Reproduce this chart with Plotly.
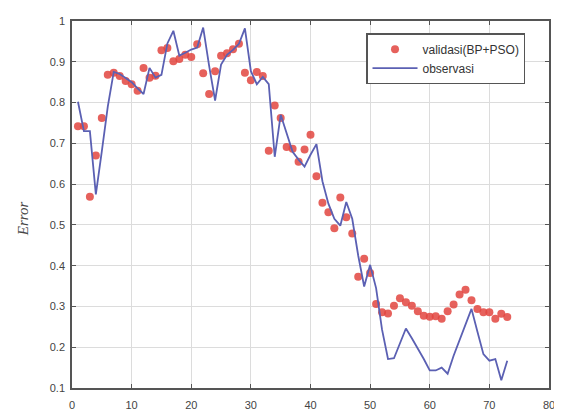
import plotly.graph_objects as go

x_idx = list(range(1, 74))

validasi = [0.742, 0.742, 0.569, 0.670, 0.762, 0.868, 0.873, 0.865, 0.853, 0.845,
            0.829, 0.885, 0.861, 0.866, 0.928, 0.934, 0.901, 0.907, 0.917, 0.912,
            0.943, 0.872, 0.821, 0.877, 0.915, 0.921, 0.931, 0.944, 0.873, 0.855,
            0.875, 0.865, 0.682, 0.793, 0.762, 0.691, 0.687, 0.655, 0.685, 0.721,
            0.619, 0.554, 0.531, 0.492, 0.567, 0.519, 0.479, 0.373, 0.417, 0.382,
            0.306, 0.286, 0.283, 0.302, 0.320, 0.310, 0.302, 0.288, 0.277, 0.275,
            0.276, 0.270, 0.288, 0.305, 0.329, 0.341, 0.315, 0.294, 0.286, 0.286,
            0.270, 0.282, 0.274]

observasi = [0.802, 0.730, 0.730, 0.575, 0.680, 0.790, 0.875, 0.870, 0.860, 0.850,
             0.835, 0.821, 0.885, 0.861, 0.868, 0.945, 0.976, 0.915, 0.922, 0.930,
             0.935, 0.984, 0.890, 0.805, 0.893, 0.917, 0.929, 0.944, 0.982, 0.877,
             0.845, 0.863, 0.845, 0.667, 0.770, 0.722, 0.679, 0.660, 0.643, 0.672,
             0.698, 0.607, 0.552, 0.515, 0.498, 0.556, 0.515, 0.425, 0.349, 0.402,
             0.345, 0.243, 0.171, 0.173, 0.210, 0.246, 0.222, 0.198, 0.171, 0.143,
             0.143, 0.150, 0.135, 0.179, 0.218, 0.258, 0.294, 0.238, 0.183, 0.167,
             0.171, 0.119, 0.167]

x_ticks = [0, 10, 20, 30, 40, 50, 60, 70, 80]
y_ticks = [0.1, 0.2, 0.3, 0.4, 0.5, 0.6, 0.7, 0.8, 0.9, 1.0]
y_tick_text = ["0.1", "0.2", "0.3", "0.4", "0.5", "0.6", "0.7", "0.8", "0.9", "1"]

fig = go.Figure()
fig.add_trace(go.Scatter(
    x=x_idx, y=validasi, mode="markers", name="validasi(BP+PSO)",
    marker=dict(color="#e2453f", size=8, opacity=0.85, line=dict(width=0)),
))
fig.add_trace(go.Scatter(
    x=x_idx, y=observasi, mode="lines", name="observasi",
    line=dict(color="#5b60b3", width=1.8),
))

axis_common = dict(
    showline=True, linecolor="#555555", linewidth=1.5, mirror="ticks",
    ticks="inside", ticklen=4, tickcolor="#555555",
    showgrid=True, gridcolor="#dcdcdc", gridwidth=1, zeroline=False,
    tickfont=dict(family="Arial, Liberation Sans, sans-serif", size=11, color="#444444"),
)

fig.update_xaxes(range=[0, 80], tickvals=x_ticks, ticklabelstandoff=6, **axis_common)
fig.update_yaxes(range=[0.1, 1.0], tickvals=y_ticks, ticktext=y_tick_text,
                 ticklabelstandoff=3, **axis_common)

fig.add_annotation(
    text="<i>Error</i>", xref="paper", yref="paper", x=0, y=0.46,
    xanchor="center", yanchor="middle", xshift=-49, textangle=-90, showarrow=False,
    font=dict(family="Liberation Serif, Times New Roman, serif", size=15, color="#444444"),
)

fig.update_layout(
    width=554, height=410,
    margin=dict(l=64, r=10, t=7, b=25),
    paper_bgcolor="white", plot_bgcolor="white",
    showlegend=True,
    legend=dict(
        x=0.617, y=0.966, xanchor="left", yanchor="top",
        bgcolor="white", bordercolor="#555555", borderwidth=1.2,
        font=dict(family="Arial, Liberation Sans, sans-serif", size=12, color="#333333"),
        tracegroupgap=0, itemwidth=45,
    ),
)

fig.write_html("out.html")
